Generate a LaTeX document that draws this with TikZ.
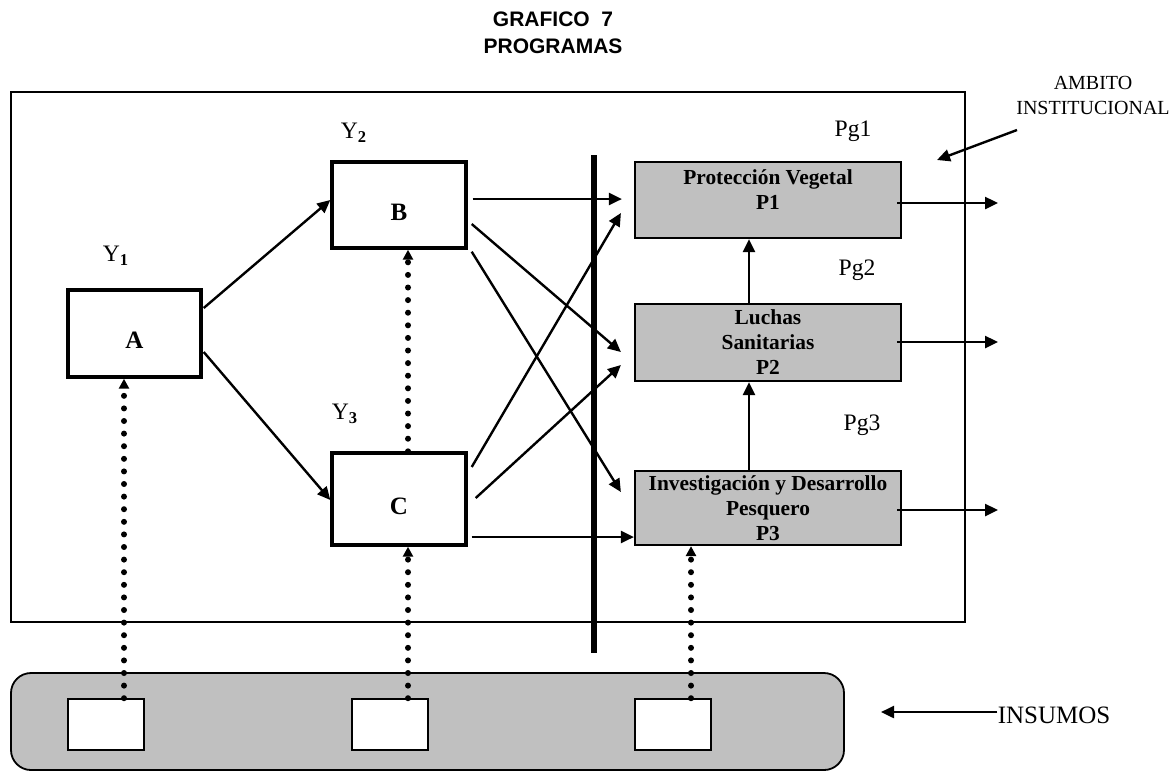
\documentclass[tikz,border=0pt]{standalone}
\usepackage{fontspec}
\setmainfont{Liberation Serif}
\newfontfamily\titlefont{Liberation Sans}
\usetikzlibrary{arrows.meta, calc}
\definecolor{progfill}{RGB}{192,192,192}
\newcommand{\lowlbl}[1]{\raisebox{-3.5pt}[\height][0pt]{#1}}

\begin{document}
\begin{tikzpicture}[x=0.5pt, y=-0.5pt,
  box/.style={draw, line width=1.7pt, fill=white, inner sep=0pt, font=\bfseries\fontsize{12.5}{14}\selectfont},
  prog/.style={draw, line width=1.1pt, fill=progfill, inner sep=0pt, minimum width=133pt, align=center, font=\bfseries\fontsize{10.7}{12.5}\selectfont},
  inbox/.style={draw, line width=0.8pt, fill=white, inner sep=0pt, minimum width=38pt, minimum height=25.5pt},
  conn/.style={-{Triangle[length=6.5pt,width=6pt]}, line width=1.2pt},
  feed/.style={-{Triangle[length=5pt,width=5pt]}, line width=3pt, dash pattern=on 0pt off 6.3pt, line cap=round},
  lbl/.style={font=\fontsize{11.8}{13}\selectfont}]
\useasboundingbox (0,0) rectangle (1176,773);

% Title
\node[font=\titlefont\bfseries\fontsize{10.5}{13.5}\selectfont, align=center] (title) at (553,33) {GRAFICO\ \ 7\\PROGRAMAS};

% Institutional frame
\draw[line width=1pt] (11,92) rectangle (965,622);
\node[font=\fontsize{10}{12.5}\selectfont, align=center] (amb) at (1093,95) {AMBITO\\INSTITUCIONAL};
\coordinate (ambfrom) at (1017,130);
\coordinate (ambto) at (937,160);
\draw[conn] (ambfrom) -- (ambto);

% Products
\node[box, minimum width=66.5pt, minimum height=43.5pt] (A) at (134.5,333.5) {\lowlbl{A}};
\node[box, minimum width=67pt, minimum height=43pt] (B) at (399,205) {\lowlbl{B}};
\node[box, minimum width=67pt, minimum height=46pt] (C) at (399,499) {\lowlbl{C}};
\node[lbl] (y1) at (116,256) {Y$_{\mathbf{1}}$};
\node[lbl] (y2) at (354,133) {Y$_{\mathbf{2}}$};
\node[lbl] (y3) at (345,414) {Y$_{\mathbf{3}}$};

% Separator
\draw[line width=2.6pt] (594,155) -- (594,653);

% Programs
\node[prog, minimum height=38pt] (P1) at (768,200) {Protección Vegetal\\P1\\[-2.5pt]{}};
\node[prog, minimum height=38.5pt] (P2) at (768,342.5) {Luchas\\Sanitarias\\P2};
\node[prog, minimum height=37pt] (P3) at (768,508) {Investigación y Desarrollo\\Pesquero\\P3};
\node[lbl] (pg1) at (853,131) {Pg1};
\node[lbl] (pg2) at (857,270) {Pg2};
\node[lbl] (pg3) at (862,425) {Pg3};

% Flows between products
\draw[conn] ($(A.east)+(1,-25.5)$) -- ($(B.west)+(0,-5)$);
\draw[conn] ($(A.east)+(1,18.5)$) -- ($(C.west)+(0,1)$);
\draw[conn] ($(B.east)+(5,-6)$) -- ($(P1.west)+(-12,-1)$);
\draw[conn] ($(B.east)+(4,19)$) -- ($(P2.west)+(-13,9.5)$);
\draw[conn] ($(B.south east)+(4,2)$) -- ($(P3.west)+(-13,-16)$);
\draw[conn] ($(C.east)+(4,-32)$) -- ($(P1.west)+(-13,13)$);
\draw[conn] ($(C.east)+(8,-1)$) -- ($(P2.west)+(-13,22.5)$);
\draw[conn] ($(C.east)+(4,38)$) -- ($(P3.west)+(0,29)$);
\draw[conn] ($(P2.north)+(-19,0)$) -- ($(P1.south)+(-19,0)$);
\draw[conn] ($(P3.north)+(-19,0)$) -- ($(P2.south)+(-19,0)$);

% Outputs
\coordinate (o1) at (998,203);
\coordinate (o2) at (998,342);
\coordinate (o3) at (998,510);
\draw[conn] ($(P1.east)+(-5,3)$) -- (o1);
\draw[conn] ($(P2.east)+(-5,-0.5)$) -- (o2);
\draw[conn] ($(P3.east)+(-5,2)$) -- (o3);

% Inputs
\draw[fill=progfill, line width=0.9pt, rounded corners=10pt] (11,673) rectangle (844,770);
\node[inbox] (in1) at (106,724.5) {};
\node[inbox] (in2) at (390,724.5) {};
\node[inbox] (in3) at (673,724.5) {};
\draw[feed] ($(in1.north)+(18,0)$) coordinate (f1) -- (f1 |- A.south);
\draw[feed] ($(in2.north)+(18,0)$) coordinate (f2) -- (f2 |- C.south);
\draw[feed] ($(in3.north)+(18,0)$) coordinate (f3) -- (f3 |- P3.south);
\draw[feed] ($(C.north)+(9,0)$) coordinate (f4) -- (f4 |- B.south);
\node[font=\fontsize{12.5}{14}\selectfont, inner sep=0pt] (ins) at (1054,715) {INSUMOS};
\coordinate (insto) at (881,712);
\draw[conn] (ins.west |- insto) -- (insto);

\end{tikzpicture}
\end{document}
